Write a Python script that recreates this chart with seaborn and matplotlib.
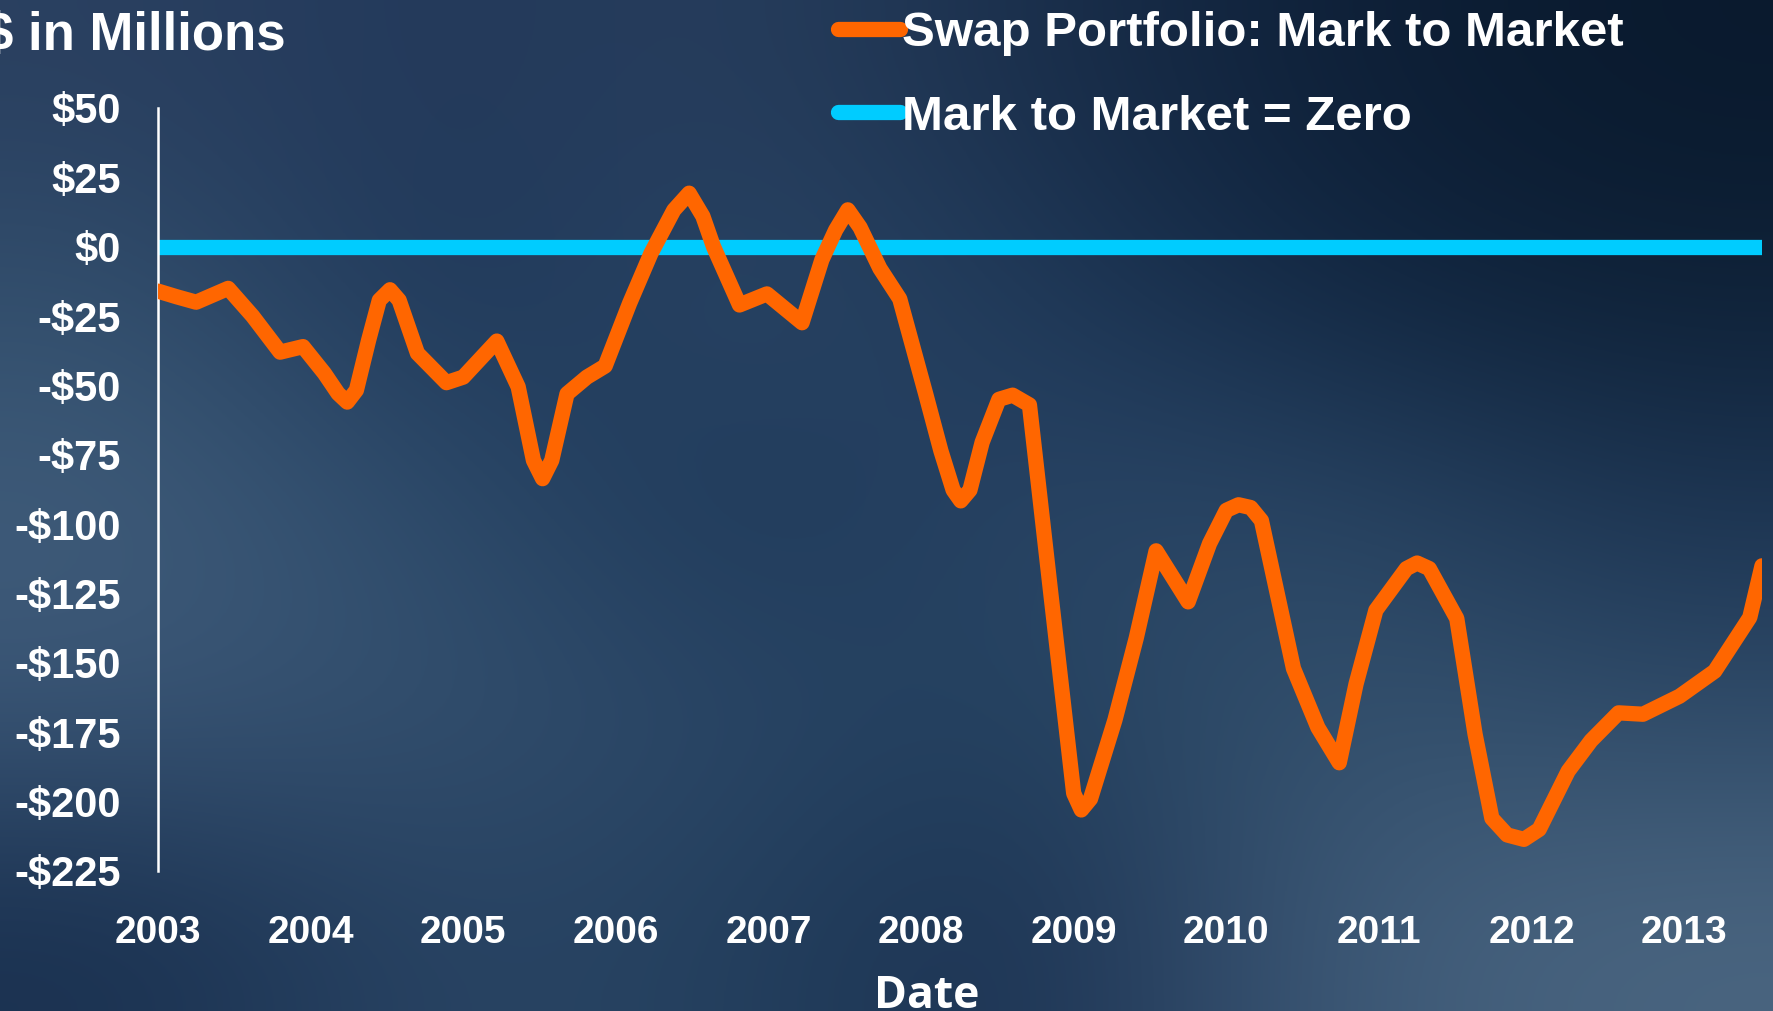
import seaborn as sns
import matplotlib.pyplot as plt
import matplotlib.colors as mcolors
import pandas as pd
import numpy as np

# Swap portfolio mark-to-market ($ millions, fractional year)
dates = [2003.00, 2003.12, 2003.25, 2003.46, 2003.62, 2003.80, 2003.95, 2004.09,
         2004.18, 2004.24, 2004.30, 2004.38, 2004.45, 2004.52, 2004.58, 2004.70,
         2004.89, 2005.00, 2005.22, 2005.36, 2005.46, 2005.52, 2005.58, 2005.68,
         2005.81, 2005.93, 2006.09, 2006.23, 2006.38, 2006.48, 2006.57, 2006.64,
         2006.81, 2006.99, 2007.22, 2007.35, 2007.44, 2007.52, 2007.60, 2007.73,
         2007.86, 2008.03, 2008.13, 2008.21, 2008.26, 2008.32, 2008.40, 2008.51,
         2008.60, 2008.71, 2008.85, 2009.00, 2009.05, 2009.11, 2009.27, 2009.41,
         2009.54, 2009.75, 2009.89, 2010.00, 2010.08, 2010.16, 2010.23, 2010.44,
         2010.60, 2010.74, 2010.85, 2010.98, 2011.18, 2011.25, 2011.33, 2011.51,
         2011.63, 2011.74, 2011.84, 2011.95, 2012.05, 2012.24, 2012.39, 2012.57,
         2012.73, 2012.97, 2013.20, 2013.43, 2013.51]
mtm = [-16, -18, -20, -15, -25, -38, -36, -45.6,
       -52.9, -56, -51.7, -33.7, -19.3, -15.5, -19.3, -38.4,
       -49, -47, -34, -50.5, -77, -83.6, -77, -53,
       -47, -43, -20.4, -2.4, 13.2, 19.3, 11, 0,
       -21, -17, -27.4, -4.7, 6, 13.3, 7, -7.8,
       -18.8, -53, -73.6, -87.7, -91.6, -87.7, -70.5, -55,
       -53.5, -57, -125, -197, -203, -199, -170.6, -141,
       -109.6, -128, -107, -95, -93, -94, -98.7, -152,
       -173.3, -186, -157.6, -131, -116, -114, -116, -134,
       -175.7, -206, -212, -213.6, -210, -189, -178, -168,
       -168.5, -162, -153, -133.6, -115]
zero_level = 0

year_ticks = list(range(2003, 2014))
y_ticks = [50, 25, 0, -25, -50, -75, -100, -125, -150, -175, -200, -225]
y_labels = ["$50", "$25", "$0", "-$25", "-$50", "-$75", "-$100", "-$125",
            "-$150", "-$175", "-$200", "-$225"]

df = pd.DataFrame({"date": dates, "mtm": mtm})

ORANGE = "#ff6600"
CYAN = "#00ccff"

sns.set_style("white")
plt.rcParams['font.family'] = ['Liberation Sans', 'DejaVu Sans']
plt.rcParams['font.weight'] = 'bold'

fig = plt.figure(figsize=(17.73, 10.11), dpi=100)

# textured dark-blue backdrop
bg_colors = [
    ["#2a4060", "#22385a", "#283f5e", "#1a2f4c", "#0e2038", "#0a1a2e"],
    ["#33506e", "#1c3556", "#2c4868", "#203a5a", "#122844", "#0f2238"],
    ["#405c7a", "#2c4a6a", "#1c3656", "#2a4566", "#2a4665", "#1c3452"],
    ["#3a5676", "#34506e", "#2a4666", "#22405e", "#36536f", "#2e4a68"],
    ["#1a3150", "#2a4565", "#24405e", "#1a3050", "#3e5a78", "#4a6580"],
]
bg = np.array([[mcolors.to_rgb(c) for c in row] for row in bg_colors])
bg_ax = fig.add_axes([0, 0, 1, 1], zorder=-10)
bg_ax.imshow(bg, aspect="auto", interpolation="bicubic", extent=[0, 1, 0, 1])
bg_ax.set_axis_off()

ax = fig.add_axes([158 / 1773, 1 - 871 / 1011, (1762 - 158) / 1773, (871 - 108) / 1011])
ax.patch.set_alpha(0)

ax.axhline(zero_level, color=CYAN, lw=11, solid_capstyle="butt", zorder=2,
           label="Mark to Market = Zero")
sns.lineplot(data=df, x="date", y="mtm", ax=ax, color=ORANGE, lw=11,
             solid_capstyle="round", solid_joinstyle="round", zorder=3,
             label="Swap Portfolio: Mark to Market")

ax.set_xlim(2003, 2013.51)
ax.set_ylim(-225, 50)
ax.set_xticks(year_ticks)
ax.set_xticklabels([str(y) for y in year_ticks], fontsize=28, color="white",
                   fontweight="bold")
ax.set_yticks(y_ticks)
ax.set_yticklabels(y_labels, fontsize=30, color="white", fontweight="bold")
ax.tick_params(axis="y", direction="out", length=8, width=1.5, color="white", pad=19)
ax.tick_params(axis="x", length=0, pad=32)
for s in ["top", "right", "bottom"]:
    ax.spines[s].set_visible(False)
ax.spines["left"].set_color("white")
ax.spines["left"].set_linewidth(1.8)
ax.set_xlabel("")
ax.set_ylabel("")
ax.grid(False)

handles, labels = ax.get_legend_handles_labels()
ax.get_legend().remove()
order = [labels.index("Swap Portfolio: Mark to Market"), labels.index("Mark to Market = Zero")]
leg = fig.legend([handles[i] for i in order], [labels[i] for i in order],
                 loc="upper left", bbox_to_anchor=(838 / 1773, 0.989),
                 frameon=False, fontsize=35.5, handlelength=1.25, handletextpad=0.05,
                 labelspacing=0.78, borderpad=0, borderaxespad=0)
for t in leg.get_texts():
    t.set_color("white")
    t.set_fontweight("bold")
for h in leg.legend_handles:
    h.set_solid_capstyle("round")

fig.text(286 / 1773, 1 - 50 / 1011, "$ in Millions", fontsize=38, color="white",
         fontweight="bold", ha="right", va="baseline")
fig.text(927 / 1773, 1 - 1008 / 1011, "Date", fontsize=32, color="white",
         fontweight="bold", ha="center", va="baseline", family="Open Sans")

fig.savefig("out.png", dpi=100)
